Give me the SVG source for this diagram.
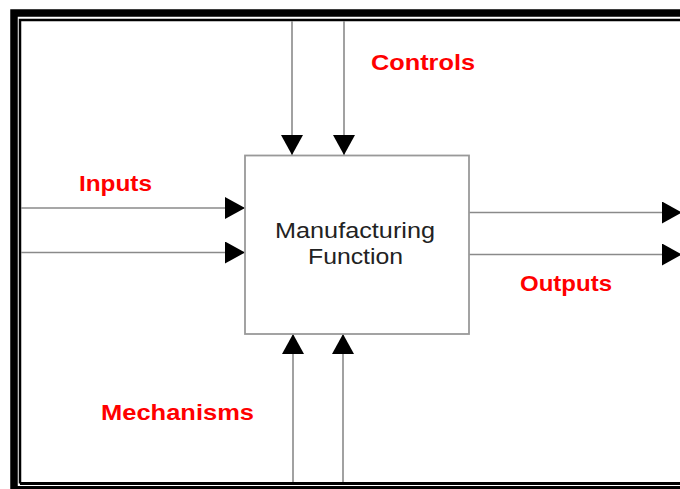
<svg xmlns="http://www.w3.org/2000/svg" width="680" height="489" viewBox="0 0 680 489">
<style>
.lbl{font-family:"Liberation Sans",Arial,sans-serif;font-weight:bold;font-size:22px;fill:#ff0000}
.nt{font-family:"Liberation Sans",Arial,sans-serif;font-size:22px;fill:#222}
.ln{stroke:#8a8a8a;stroke-width:1.6;fill:none}
</style>
<defs>
<marker id="ah" viewBox="0 0 20 22" refX="20" refY="11" markerWidth="20" markerHeight="22" markerUnits="userSpaceOnUse" orient="auto">
<path d="M0,0 L20,11 L0,22 Z" fill="#000"/>
</marker>
</defs>
<rect width="680" height="489" fill="#fff"/>
<g id="frame">
<path d="M14,489 V13 H680" fill="none" stroke="#000" stroke-width="7.5"/>
<rect x="11" y="486" width="669" height="3" fill="#000"/>
<path d="M20,483.5 V20 H680" fill="none" stroke="#000" stroke-width="2.5"/>
<rect x="20" y="482" width="660" height="3" fill="#000"/>
</g>
<g id="connectors">
<line class="ln" x1="292" y1="21" x2="292" y2="155" marker-end="url(#ah)"/>
<line class="ln" x1="344" y1="21" x2="344" y2="155" marker-end="url(#ah)"/>
<line class="ln" x1="21" y1="208" x2="245" y2="208" marker-end="url(#ah)"/>
<line class="ln" x1="21" y1="252.5" x2="245" y2="252.5" marker-end="url(#ah)"/>
<line class="ln" x1="469" y1="212.5" x2="682" y2="212.5" marker-end="url(#ah)"/>
<line class="ln" x1="469" y1="254.5" x2="682" y2="254.5" marker-end="url(#ah)"/>
<line class="ln" x1="293" y1="482" x2="293" y2="334" marker-end="url(#ah)"/>
<line class="ln" x1="343" y1="482" x2="343" y2="334" marker-end="url(#ah)"/>
</g>
<g id="manufacturing-function">
<rect x="245" y="155.5" width="224" height="178.5" fill="#fff" stroke="#999" stroke-width="1.8"/>
<text class="nt" x="355" y="238" text-anchor="middle" textLength="160" lengthAdjust="spacingAndGlyphs">Manufacturing</text>
<text class="nt" x="355.5" y="264" text-anchor="middle" textLength="95" lengthAdjust="spacingAndGlyphs">Function</text>
</g>
<g id="controls"><text class="lbl" x="371" y="70" textLength="104" lengthAdjust="spacingAndGlyphs">Controls</text></g>
<g id="inputs"><text class="lbl" x="79" y="191" textLength="73" lengthAdjust="spacingAndGlyphs">Inputs</text></g>
<g id="outputs"><text class="lbl" x="520" y="291" textLength="92" lengthAdjust="spacingAndGlyphs">Outputs</text></g>
<g id="mechanisms"><text class="lbl" x="101" y="420" textLength="153" lengthAdjust="spacingAndGlyphs">Mechanisms</text></g>
</svg>
